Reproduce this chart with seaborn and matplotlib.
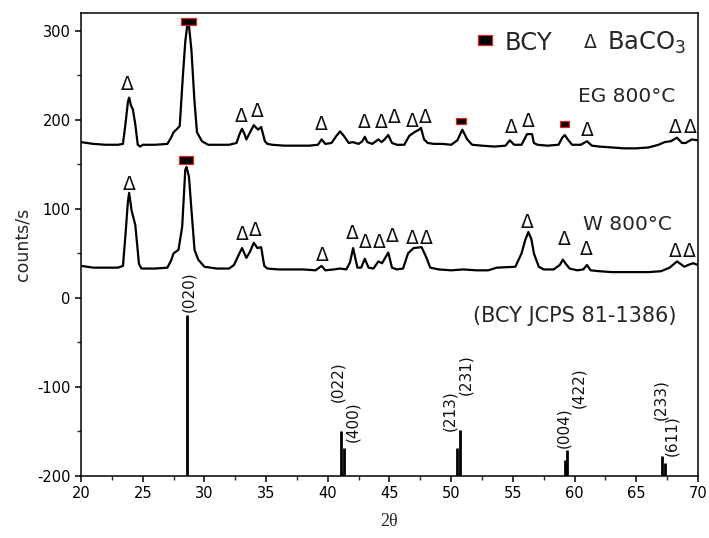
import matplotlib
matplotlib.use("Agg")
import matplotlib.pyplot as plt
import numpy as np
import pandas as pd
import seaborn as sns

# ---- XRD pattern, sample EG 800 °C (2θ in degrees, counts/s) ----
eg_2theta = [20.0, 21.0, 22.0, 23.0, 23.4, 23.6, 23.8, 23.9, 24.05, 24.2,
             24.4, 24.6, 24.8, 25.0, 26.0, 27.0, 27.3, 27.5, 27.8, 28.0,
             28.25, 28.45, 28.65, 28.75, 28.95, 29.2, 29.4, 29.8, 30.3, 31.0,
             32.0, 32.6, 32.85, 33.05, 33.25, 33.4, 33.7, 34.0, 34.2, 34.35,
             34.6, 34.9, 35.1, 35.5, 36.5, 37.5, 38.5, 39.2, 39.5, 39.8,
             40.3, 40.7, 41.0, 41.3, 41.7, 42.0, 42.5, 42.8, 43.0, 43.2,
             43.6, 44.1, 44.35, 44.6, 44.9, 45.2, 45.6, 46.2, 46.6, 47.0,
             47.4, 47.55, 47.8, 48.1, 48.6, 49.3, 50.0, 50.5, 50.9, 51.3,
             51.7, 52.5, 53.5, 54.4, 54.75, 55.1, 55.7, 56.0, 56.15, 56.55,
             56.7, 57.0, 57.8, 58.7, 59.0, 59.2, 59.5, 59.8, 60.5, 61.0,
             61.4, 62.0, 63.0, 64.0, 65.0, 66.0, 66.8, 67.3, 67.8, 68.3,
             68.7, 69.0, 69.5, 70.0]
eg_counts = [175, 173, 172, 172, 173, 195, 220, 225, 216, 212,
             195, 172, 170, 172, 172, 173, 180, 186, 190, 193,
             248, 288, 310, 306, 278, 220, 186, 176, 172, 172,
             172, 174, 184, 190, 184, 178, 186, 194, 191, 189,
             192, 176, 173, 172, 171, 171, 171, 172, 178, 173,
             174, 182, 187, 182, 174, 175, 173, 176, 181, 175,
             173, 178, 175, 178, 183, 174, 172, 172, 182, 186,
             189, 191, 178, 174, 173, 173, 172, 177, 189, 178,
             172, 171, 170, 171, 177, 172, 172, 180, 184, 184,
             174, 172, 171, 172, 180, 183, 177, 172, 172, 176,
             171, 170, 169, 168, 168, 169, 172, 175, 176, 180,
             174, 174, 178, 177]

# ---- XRD pattern, sample W 800 °C ----
w_2theta = [20.0, 21.0, 22.0, 23.0, 23.4, 23.6, 23.8, 23.9, 24.1, 24.4,
            24.7, 24.9, 26.0, 27.0, 27.3, 27.5, 27.9, 28.2, 28.45, 28.55,
            28.75, 28.95, 29.2, 29.5, 30.0, 31.0, 32.0, 32.4, 32.7, 33.05,
            33.4, 33.7, 34.0, 34.3, 34.6, 34.85, 35.1, 36.0, 37.0, 38.0,
            39.0, 39.5, 39.8, 40.5, 41.0, 41.5, 41.8, 42.05, 42.4, 42.7,
            43.0, 43.3, 43.7, 44.1, 44.4, 44.9, 45.2, 45.6, 46.1, 46.5,
            46.95, 47.6, 48.0, 48.3, 49.0, 50.0, 51.0, 52.0, 53.0, 53.7,
            55.2, 55.7, 56.0, 56.25, 56.5, 56.7, 57.1, 57.5, 58.3, 58.8,
            59.05, 59.3, 59.6, 60.2, 60.7, 61.0, 61.3, 62.0, 63.0, 64.0,
            65.0, 66.0, 67.0, 67.7, 68.3, 68.6, 68.9, 69.2, 69.6, 70.0]
w_counts = [36, 34, 34, 34, 36, 70, 108, 118, 98, 82,
            38, 33, 33, 34, 42, 50, 54, 80, 144, 147,
            136, 99, 54, 43, 35, 33, 33, 37, 46, 56,
            45, 52, 62, 56, 57, 36, 33, 32, 32, 32,
            31, 36, 31, 32, 33, 32, 40, 56, 34, 34,
            44, 34, 33, 41, 39, 51, 34, 32, 33, 50,
            56, 57, 45, 34, 32, 31, 32, 31, 31, 34,
            35, 50, 65, 74, 66, 50, 35, 32, 32, 37,
            43, 38, 33, 31, 32, 37, 31, 30, 29, 29,
            29, 29, 30, 34, 41, 38, 35, 37, 39, 37]

# ---- Reference pattern BCY (JCPDS 81-1386) ----
ref_2theta = [28.6, 41.1, 41.3, 50.5, 50.7, 59.2, 59.4, 67.1, 67.35]
ref_top = [-19, -150, -168, -168, -148, -182, -171, -178, -185]
ref_hkl = ["(020)", "(022)", "(400)", "(213)", "(231)",
           "(004)", "(422)", "(233)", "(611)"]
ref_base = -200

# ---- Phase markers: BaCO3 (Δ) and BCY (■) ----
baco3_eg_x = [23.75, 33.0, 34.3, 39.5, 42.95, 44.3, 45.4, 46.85, 47.9,
              54.9, 56.25, 61.0, 68.2, 69.35]
baco3_eg_y = [240, 204, 209, 195, 197, 197, 203, 198, 203,
              191, 198, 188, 191, 191]
baco3_w_x = [23.9, 33.05, 34.1, 39.55, 41.95, 43.0, 44.15, 45.2, 46.85,
             47.95, 56.2, 59.2, 60.95, 68.2, 69.3]
baco3_w_y = [127, 71, 76, 48, 72, 62, 62, 69, 67,
             67, 85, 66, 54, 52, 52]
bcy_x = [28.65, 50.8, 59.15, 28.5]
bcy_y = [311, 199, 195, 155]

# rectangle marker sizes (width, height) in pixels for each BCY marker
bcy_box_px = [(15, 7), (10, 7), (9, 6), (14, 8)]

sns.set_theme(style="ticks")
plt.rcParams["font.family"] = ["DejaVu Sans"]
plt.rcParams["axes.unicode_minus"] = False

fig = plt.figure(figsize=(7.09, 5.38), dpi=100)
ax = fig.add_axes([81 / 709, 62 / 538, 617 / 709, 463 / 538])

eg_df = pd.DataFrame({"two_theta": eg_2theta, "counts": eg_counts})
w_df = pd.DataFrame({"two_theta": w_2theta, "counts": w_counts})
sns.lineplot(data=eg_df, x="two_theta", y="counts", ax=ax, color="black",
             lw=1.6, sort=False, estimator=None)
sns.lineplot(data=w_df, x="two_theta", y="counts", ax=ax, color="black",
             lw=1.6, sort=False, estimator=None)

# reference sticks
ax.vlines(ref_2theta, ref_base, ref_top, colors="black", lw=2.0)

# hkl label offsets from each stick top: (d2θ, dcounts)
hkl_offsets = [(0.1, 3), (-0.3, 33), (0.7, 6), (-0.6, 18), (0.5, 39),
               (-0.1, 14), (0.95, 47), (-0.1, 41), (0.55, 7)]
for x, top, lab, (dx, dy) in zip(ref_2theta, ref_top, ref_hkl, hkl_offsets):
    ax.text(x + dx, top + dy, lab, rotation=90, ha="center", va="bottom",
            fontsize=11, color="#111111")


def box_marker(w, h):
    return [(-w / 2, -h / 2), (w / 2, -h / 2), (w / 2, h / 2),
            (-w / 2, h / 2), (-w / 2, -h / 2)]


red = "#e3261c"
for x, y, (w, h) in zip(bcy_x, bcy_y, bcy_box_px):
    ax.plot([x], [y], ls="none", marker=box_marker(w, h), ms=w * 0.72,
            mfc="black", mec=red, mew=0.9)

for x, y in zip(baco3_eg_x + baco3_w_x, baco3_eg_y + baco3_w_y):
    ax.text(x, y, "Δ", ha="center", va="center", fontsize=13.5,
            color="#111111")

# legend entries
ax.plot([52.7], [290], ls="none", marker=box_marker(14, 10), ms=14 * 0.72,
        mfc="black", mec=red, mew=0.9)
ax.text(54.35, 279, "BCY", fontsize=17.5, va="baseline", ha="left")
ax.text(61.25, 281, "Δ", fontsize=13.5, va="baseline", ha="center")
ax.text(62.6, 279, "BaCO$_3$", fontsize=17.5, va="baseline", ha="left")

ax.text(60.3, 220, "EG 800°C", fontsize=14.5, va="baseline", ha="left")
ax.text(60.7, 76, "W 800°C", fontsize=14.5, va="baseline", ha="left")
ax.text(51.8, -27, "(BCY JCPS 81-1386)", fontsize=15, va="baseline",
        ha="left")

ax.set_xlim(20, 70)
ax.set_ylim(-200, 320)
ax.set_xticks(np.arange(20, 71, 5))
ax.set_xticks(np.arange(22.5, 70, 5), minor=True)
ax.set_yticks(np.arange(-200, 301, 100))
ax.set_yticks(np.arange(-150, 301, 100), minor=True)
ax.tick_params(axis="both", which="major", direction="out", length=4.5,
               width=1.1, labelsize=10.5, colors="black", pad=3)
ax.tick_params(axis="both", which="minor", direction="out", length=3,
               width=1.0)
for s in ax.spines.values():
    s.set_linewidth(1.1)
    s.set_color("black")

ax.set_xlabel("2θ", fontsize=13, family=["Liberation Serif"], labelpad=8)
ax.set_ylabel("counts/s", fontsize=12.5, labelpad=4)

fig.savefig("out.png", dpi=100)
